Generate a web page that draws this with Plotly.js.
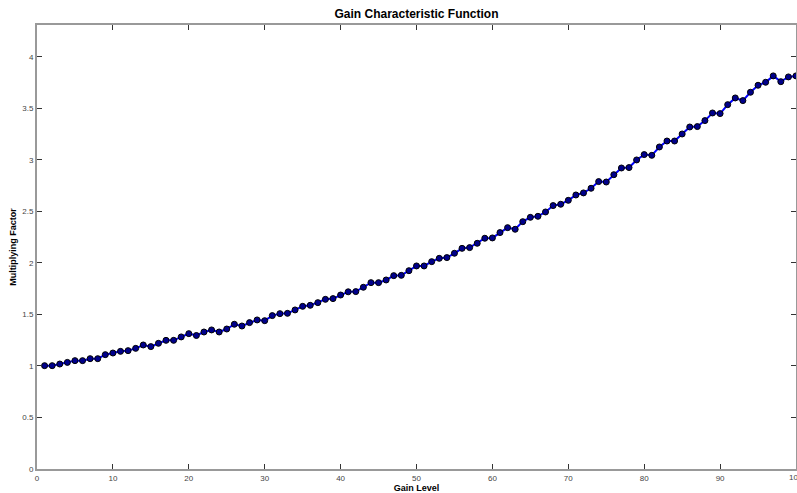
<!DOCTYPE html>
<html>
<head>
<meta charset="utf-8">
<script src="https://cdn.plot.ly/plotly-3.0.1.min.js"></script>
<style>html,body{margin:0;padding:0;background:#fff;}#chart{width:797px;height:493px;}</style>
</head>
<body>
<div id="chart"></div>
<script>
var gainLevel = [];
for (var i = 1; i <= 100; i++) gainLevel.push(i);

var multiplyingFactor = [
  1.003, 1.003, 1.019, 1.035, 1.052, 1.052, 1.071, 1.071, 1.110, 1.126,
  1.142, 1.149, 1.171, 1.204, 1.188, 1.220, 1.249, 1.249, 1.282, 1.314,
  1.296, 1.330, 1.350, 1.330, 1.359, 1.405, 1.388, 1.421, 1.447, 1.440,
  1.489, 1.508, 1.511, 1.544, 1.579, 1.589, 1.615, 1.647, 1.654, 1.689,
  1.720, 1.722, 1.764, 1.809, 1.809, 1.835, 1.877, 1.880, 1.925, 1.971,
  1.971, 2.013, 2.045, 2.052, 2.094, 2.142, 2.149, 2.191, 2.240, 2.243,
  2.295, 2.343, 2.327, 2.401, 2.443, 2.453, 2.495, 2.557, 2.570, 2.608,
  2.660, 2.680, 2.725, 2.790, 2.786, 2.857, 2.922, 2.926, 3.000, 3.052,
  3.045, 3.126, 3.184, 3.184, 3.252, 3.320, 3.324, 3.382, 3.456, 3.450,
  3.537, 3.602, 3.576, 3.657, 3.725, 3.754, 3.816, 3.760, 3.806, 3.816
];

var xTicks = [0, 10, 20, 30, 40, 50, 60, 70, 80, 90, 100];
var yTicks = [0, 0.5, 1, 1.5, 2, 2.5, 3, 3.5, 4];

var trace = {
  x: gainLevel,
  y: multiplyingFactor,
  type: 'scatter',
  mode: 'lines+markers',
  line: {color: '#0000ff', width: 2},
  marker: {color: '#00008b', size: 6, line: {color: '#000000', width: 1}},
  hoverinfo: 'x+y'
};

var fontFam = 'Liberation Sans, Arial, sans-serif';

var layout = {
  width: 797,
  height: 493,
  margin: {l: 37, r: 1, t: 25, b: 24},
  paper_bgcolor: '#ffffff',
  plot_bgcolor: '#ffffff',
  showlegend: false,
  title: {
    text: '<b>Gain Characteristic Function</b>',
    font: {family: fontFam, size: 12, color: '#000'},
    x: 0.5, xref: 'paper',
    y: 1 - 14 / 493, yref: 'container', yanchor: 'middle'
  },
  xaxis: {
    range: [0, 100],
    tickvals: xTicks,
    ticktext: xTicks.map(String),
    ticks: 'inside', ticklen: 5, tickwidth: 1, tickcolor: '#333',
    showline: true, linecolor: '#999', linewidth: 2, mirror: 'ticks',
    showgrid: false, zeroline: false,
    tickfont: {family: fontFam, size: 8, color: '#444'},
    title: {text: '<b>Gain Level</b>', font: {family: fontFam, size: 9, color: '#000'}, standoff: 2}
  },
  yaxis: {
    range: [0, 4.31],
    tickvals: yTicks,
    ticktext: yTicks.map(String),
    ticks: 'inside', ticklen: 5, tickwidth: 1, tickcolor: '#333',
    showline: true, linecolor: '#999', linewidth: 2, mirror: 'ticks',
    showgrid: false, zeroline: false,
    tickfont: {family: fontFam, size: 8, color: '#444'},
    title: {text: '<b>Multiplying Factor</b>', font: {family: fontFam, size: 9, color: '#000'}, standoff: 4}
  },
  annotations: [{
    text: String(xTicks[xTicks.length - 1]),
    x: xTicks[xTicks.length - 1], xref: 'x',
    y: 0, yref: 'paper',
    xanchor: 'center', yanchor: 'top', yshift: -2,
    showarrow: false,
    font: {family: fontFam, size: 8, color: '#444'}
  }]
};

Plotly.newPlot('chart', [trace], layout, {displayModeBar: false, staticPlot: true});
</script>
</body>
</html>
